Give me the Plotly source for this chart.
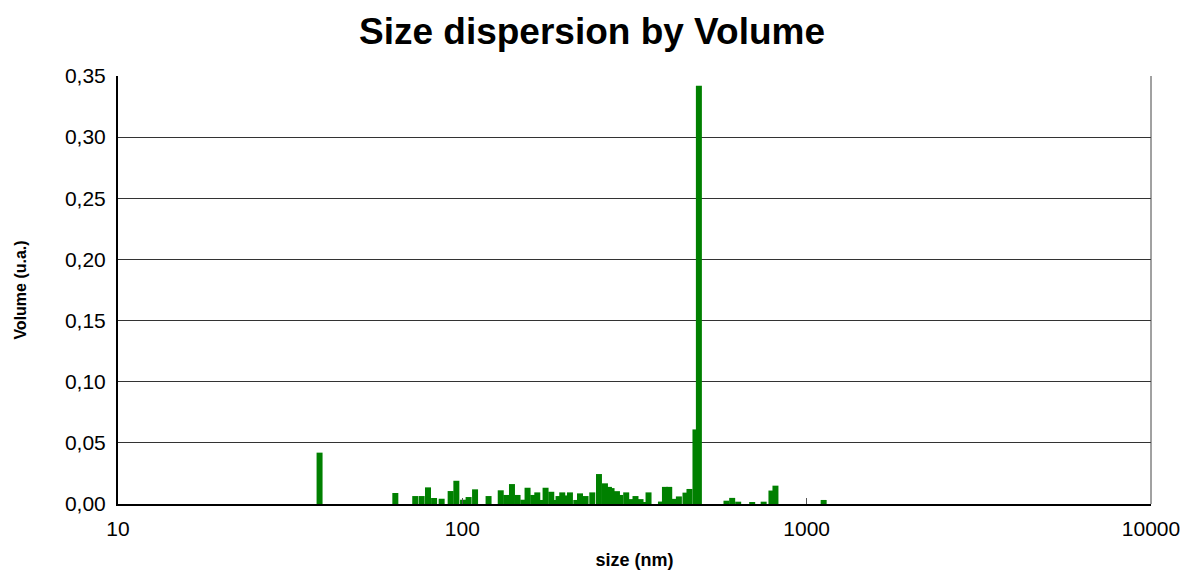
import numpy as np
import plotly.graph_objects as go

# Particle size (nm) at each bar and its relative volume (u.a.)
size_nm = [
    38.5, 63.9, 73.0, 76.2, 79.5, 82.8, 87.1, 92.5, 96.1, 100.5,
    104.3, 108.9, 119.2, 129.3, 134.2, 139.4, 144.7, 150.4, 154.7, 160.7,
    165.1, 171.1, 174.5, 181.3, 186.2, 190.3, 195.1, 202.2, 205.4, 214.3,
    219.7, 228.0, 238.5, 249.4, 259.6, 266.6, 271.3, 281.3, 287.5, 299.2,
    309.4, 318.4, 329.3, 340.5, 347.4, 377.5, 387.7, 399.0, 410.6, 425.6,
    444.8, 456.8, 475.5, 486.5, 585.1, 607.8, 632.7, 694.8, 750.2, 790.3,
    811.8, 1120.5,
]
volume = [
    0.042, 0.009, 0.0065, 0.0065, 0.0136, 0.0049, 0.0043, 0.0106, 0.019, 0.0035,
    0.0057, 0.012, 0.0065, 0.0112, 0.0074, 0.0163, 0.0074, 0.0035, 0.0133, 0.0074,
    0.0095, 0.0033, 0.0133, 0.010, 0.0033, 0.0065, 0.0095, 0.007, 0.0095, 0.0033,
    0.0087, 0.0065, 0.0095, 0.0245, 0.0169, 0.014, 0.013, 0.0105, 0.0074, 0.0095,
    0.004, 0.0065, 0.004, 0.0016, 0.0095, 0.002, 0.014, 0.014, 0.0042, 0.0062,
    0.0093, 0.0123, 0.061, 0.342, 0.0027, 0.005, 0.0019, 0.0015, 0.0019, 0.011,
    0.015, 0.0033,
]

x_ticks = [10, 100, 1000, 10000]
x_tick_text = ["10", "100", "1000", "10000"]
y_ticks = [0.0, 0.05, 0.10, 0.15, 0.20, 0.25, 0.30, 0.35]

# Constant bar width in log space (decades), converted to linear units per bar
half_decades = 0.0087
sizes = np.array(size_nm)
widths = sizes * (10 ** half_decades - 10 ** (-half_decades))

fig = go.Figure()
fig.add_trace(go.Bar(
    x=size_nm,
    y=volume,
    width=widths,
    marker=dict(color="#008000", line=dict(width=0)),
    hoverinfo="skip",
))

font_family = "Liberation Sans, Arial, sans-serif"

fig.update_layout(
    width=1184,
    height=570,
    margin=dict(l=118, r=33, t=76, b=66),
    paper_bgcolor="white",
    plot_bgcolor="white",
    separators=",.",
    showlegend=False,
    title=dict(
        text="<b>Size dispersion by Volume</b>",
        x=0.5, xanchor="center",
        y=0.945, yanchor="middle",
        font=dict(family=font_family, size=37, color="black"),
    ),
    xaxis=dict(
        type="log",
        range=[1, 4],
        automargin=False,
        tickvals=x_ticks,
        ticktext=x_tick_text,
        ticks="inside",
        ticklen=6,
        tickcolor="#555555",
        ticklabelstandoff=5,
        showgrid=False,
        zeroline=False,
        showline=True,
        linecolor="black",
        linewidth=2,
        tickfont=dict(family=font_family, size=21, color="black"),
        title=dict(
            text="<b>size (nm)</b>",
            font=dict(family=font_family, size=18, color="black"),
            standoff=15,
        ),
    ),
    yaxis=dict(
        range=[0, 0.35],
        automargin=False,
        tickvals=y_ticks,
        tickformat=".2f",
        ticks="",
        showgrid=True,
        gridcolor="#333333",
        gridwidth=1,
        zeroline=False,
        showline=True,
        linecolor="black",
        linewidth=2,
        ticklabelstandoff=6,
        tickfont=dict(family=font_family, size=21, color="black"),
        title=dict(
            text="<b>Volume (u.a.)</b>",
            font=dict(family=font_family, size=16, color="black"),
            standoff=34,
        ),
    ),
)

# Right-hand frame edge of the plotting area
fig.add_shape(
    type="line", xref="x domain", yref="y domain",
    x0=1, x1=1, y0=0, y1=1,
    line=dict(color="#444444", width=1),
)

fig.write_html("out.html")
